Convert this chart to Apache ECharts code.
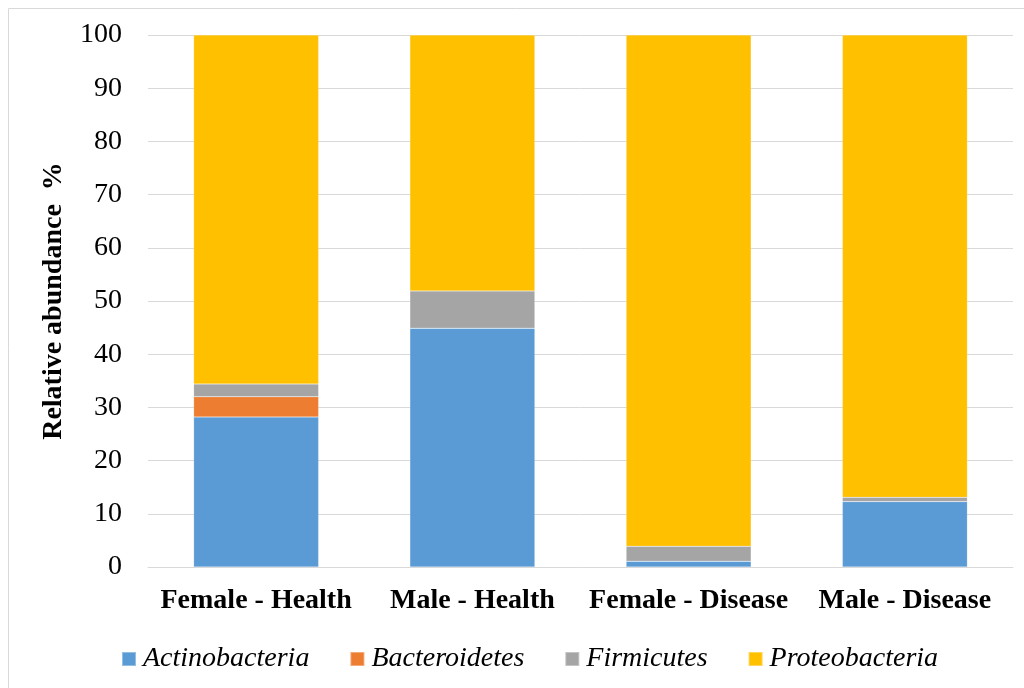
<!DOCTYPE html>
<html>
<head>
<meta charset="utf-8">
<script src="https://cdn.jsdelivr.net/npm/echarts@6/dist/echarts.min.js"></script>
<style>
  html, body { margin: 0; padding: 0; background: #fff; }
  #chart { width: 1024px; height: 688px; }
</style>
</head>
<body>
<div id="chart"></div>
<script>
// Groups and phylum abundances (%)
const categories = ['Female - Health', 'Male - Health', 'Female - Disease', 'Male - Disease'];
const actinobacteria = [28.2, 44.9, 1.1, 12.3];
const bacteroidetes = [3.8, 0, 0, 0];
const firmicutes = [2.4, 7.0, 2.8, 0.8];
const proteobacteria = [65.6, 48.1, 96.1, 86.9];
const yTicks = [0, 10, 20, 30, 40, 50, 60, 70, 80, 90, 100];

const serif = '"Liberation Serif", "Times New Roman", serif';

function stacked(name, data, color) {
  return {
    name: name,
    type: 'bar',
    stack: 'total',
    data: data,
    barWidth: 125,
    itemStyle: { color: color, borderColor: 'rgba(255,255,255,0.35)', borderWidth: 0.5 },
    emphasis: { disabled: true }
  };
}

const chart = echarts.init(document.getElementById('chart'));
chart.setOption({
  animation: false,
  backgroundColor: '#fff',
  graphic: [{
    // chart frame (top and left edges fall inside the canvas)
    type: 'rect',
    shape: { x: 8.5, y: 8.5, width: 1100, height: 1000 },
    style: { fill: 'none', stroke: '#d9d9d9', lineWidth: 1 },
    silent: true
  }],
  grid: { left: 148, right: 11, top: 35, bottom: 121 },
  legend: {
    top: 640,
    left: 116,
    itemWidth: 14,
    itemHeight: 14,
    itemGap: 40,
    icon: 'rect',
    textStyle: { fontFamily: serif, fontStyle: 'italic', fontSize: 28, color: '#000', padding: [0, 0, 0, 2] },
    data: ['Actinobacteria', 'Bacteroidetes', 'Firmicutes', 'Proteobacteria']
  },
  xAxis: {
    type: 'category',
    data: categories,
    axisLine: { lineStyle: { color: '#d9d9d9', width: 1 } },
    axisTick: { show: false },
    axisLabel: { fontFamily: serif, fontWeight: 'bold', fontSize: 28, color: '#000', margin: 20, interval: 0 }
  },
  yAxis: {
    type: 'value',
    min: yTicks[0],
    max: yTicks[yTicks.length - 1],
    interval: 10,
    name: 'Relative abundance  %',
    nameLocation: 'middle',
    nameGap: 80,
    nameTextStyle: { fontFamily: serif, fontWeight: 'bold', fontSize: 28, color: '#000' },
    axisLine: { show: false },
    axisTick: { show: false },
    splitLine: { lineStyle: { color: '#d9d9d9', width: 1 } },
    axisLabel: { fontFamily: serif, fontSize: 28, color: '#000', margin: 26 }
  },
  series: [
    stacked('Actinobacteria', actinobacteria, '#5b9bd5'),
    stacked('Bacteroidetes', bacteroidetes, '#ed7d31'),
    stacked('Firmicutes', firmicutes, '#a5a5a5'),
    stacked('Proteobacteria', proteobacteria, '#ffc000')
  ]
});
</script>
</body>
</html>
